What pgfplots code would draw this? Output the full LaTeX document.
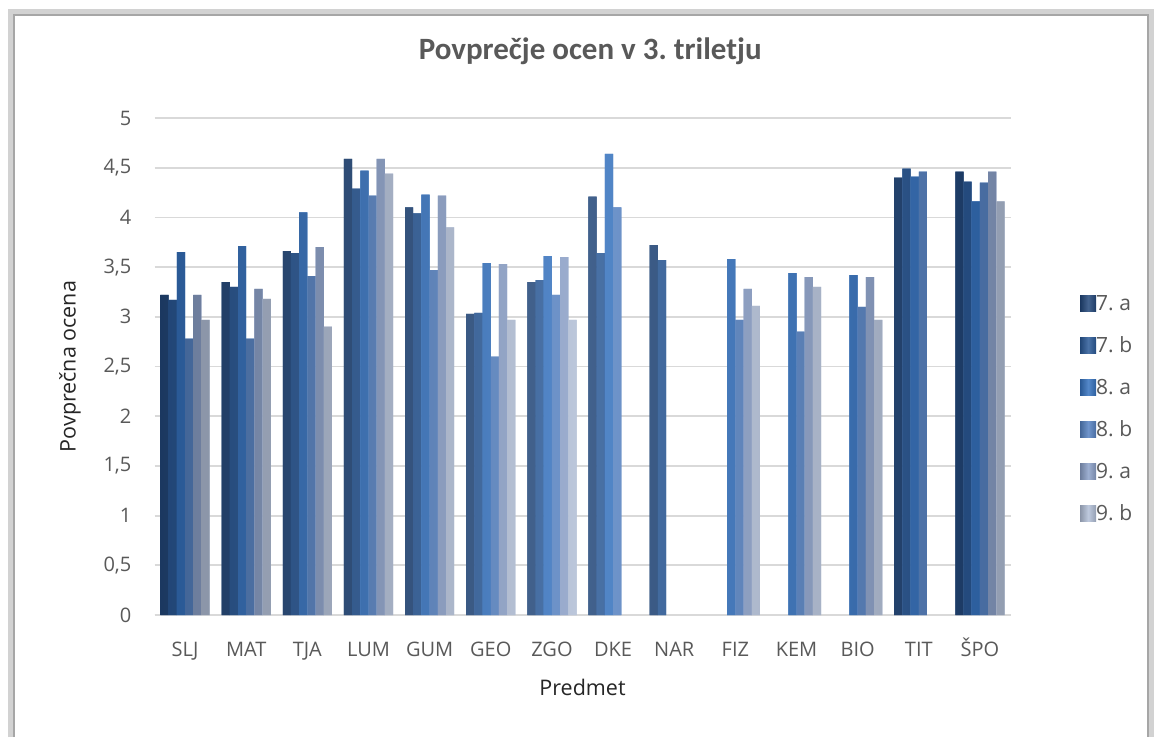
\documentclass[border=0pt]{standalone}
\usepackage{fontspec}
\setmainfont{Open Sans}
\newfontfamily\titlefont{Carlito}
\usepackage{pgfplots}
\pgfplotsset{compat=1.18}
\frenchspacing
\definecolor{cA}{HTML}{23487B}
\definecolor{cB}{HTML}{2B5A98}
\definecolor{cC}{HTML}{3673C0}
\definecolor{cD}{HTML}{5783C3}
\definecolor{cE}{HTML}{8CA1C9}
\definecolor{cF}{HTML}{B3C0D8}
\definecolor{txt}{HTML}{595959}
\definecolor{grid}{HTML}{D9D9D9}
\begin{document}
\frenchspacing
\begin{tikzpicture}
\useasboundingbox (0pt,0pt) rectangle (1161pt,737pt);
\fill[white] (0pt,0pt) rectangle (1161pt,737pt);
\draw[gray!35, line width=6pt] (11pt,0pt) -- (11pt,725pt) -- (1151pt,725pt) -- (1151pt,0pt);
\draw[gray!70, line width=2.5pt] (14pt,0pt) -- (14pt,722pt) -- (1148pt,722pt) -- (1148pt,0pt);
\begin{axis}[
  at={(154.5pt,122pt)}, anchor=south west,
  scale only axis, width=856pt, height=497pt,
  ybar=0pt, bar width=8.2pt,
  xmin=-0.5, xmax=13.5, ymin=0, ymax=5,
  xtick={0,1,...,13},
  xticklabels={SLJ,MAT,TJA,LUM,GUM,GEO,ZGO,DKE,NAR,FIZ,KEM,BIO,TIT,ŠPO},
  ytick={0,0.5,...,5},
  /pgf/number format/.cd, use comma, fixed, assume math mode=true,
  /pgfplots/.cd,
  tick style={draw=none},
  ymajorgrids, major grid style={draw=grid, line width=1.8pt},
  axis x line*=bottom, x axis line style={draw=grid, line width=2.5pt, -},
  axis y line*=left, y axis line style={draw=none},
  tick label style={font=\fontsize{20}{24}\selectfont, text=txt},
  yticklabel style={inner sep=0pt, xshift=-23pt},
  xticklabel style={inner sep=0pt, text height=15pt, text depth=4pt, yshift=-22pt},
  xlabel={Predmet}, ylabel={Povprečna ocena},
  label style={font=\fontsize{21.5}{25}\selectfont, text=black!85},
  xlabel style={at={(axis description cs:0.5,-0.145)}, anchor=center},
  ylabel style={at={(axis description cs:-0.0987,0.5)}, anchor=center, rotate=0},
  title={Povprečje ocen v 3. triletju},
  title style={at={(axis description cs:0.509,1.123)}, anchor=center, font=\titlefont\bfseries\fontsize{31}{35}\selectfont\frenchspacing, text=txt},
  legend style={at={(1.0777,0.4165)}, anchor=west, draw=none, fill=none,
    font=\fontsize{21}{25}\selectfont\frenchspacing, text=txt, row sep=26pt,
    nodes={inner sep=0pt, text height=15pt, text depth=0pt}},
  legend cell align=left,
  /tikz/every even column/.append style={column sep=5pt},
  legend image code/.code={\fill[#1] (0pt,-8pt) rectangle (16pt,8pt);},
]
\addplot[draw=none, fill=cA, left color=cA!78!black, right color=cA!82!black, middle color=cA!85!white] coordinates {
(0,3.22) (1,3.35) (2,3.66) (3,4.59) (4,4.10) (5,3.03) (6,3.35) (7,4.21) (8,3.72) (12,4.40) (13,4.46)};
\addplot[draw=none, fill=cB, left color=cB!78!black, right color=cB!82!black, middle color=cB!85!white] coordinates {
(0,3.17) (1,3.30) (2,3.64) (3,4.29) (4,4.04) (5,3.04) (6,3.37) (7,3.64) (8,3.57) (12,4.49) (13,4.36)};
\addplot[draw=none, fill=cC, left color=cC!78!black, right color=cC!82!black, middle color=cC!85!white] coordinates {
(0,3.65) (1,3.71) (2,4.05) (3,4.47) (4,4.23) (5,3.54) (6,3.61) (7,4.64) (9,3.58) (10,3.44) (11,3.42) (12,4.41) (13,4.16)};
\addplot[draw=none, fill=cD, left color=cD!78!black, right color=cD!82!black, middle color=cD!85!white] coordinates {
(0,2.78) (1,2.78) (2,3.41) (3,4.22) (4,3.47) (5,2.60) (6,3.22) (7,4.10) (9,2.97) (10,2.85) (11,3.10) (12,4.46) (13,4.35)};
\addplot[draw=none, fill=cE, left color=cE!78!black, right color=cE!82!black, middle color=cE!85!white] coordinates {
(0,3.22) (1,3.28) (2,3.70) (3,4.59) (4,4.22) (5,3.53) (6,3.60) (9,3.28) (10,3.40) (11,3.40) (13,4.46)};
\addplot[draw=none, fill=cF, left color=cF!78!black, right color=cF!82!black, middle color=cF!85!white] coordinates {
(0,2.97) (1,3.18) (2,2.90) (3,4.44) (4,3.90) (5,2.97) (6,2.97) (9,3.11) (10,3.30) (11,2.97) (13,4.16)};
\legend{7. a,7. b,8. a,8. b,9. a,9. b}
\end{axis}
\end{tikzpicture}
\end{document}
